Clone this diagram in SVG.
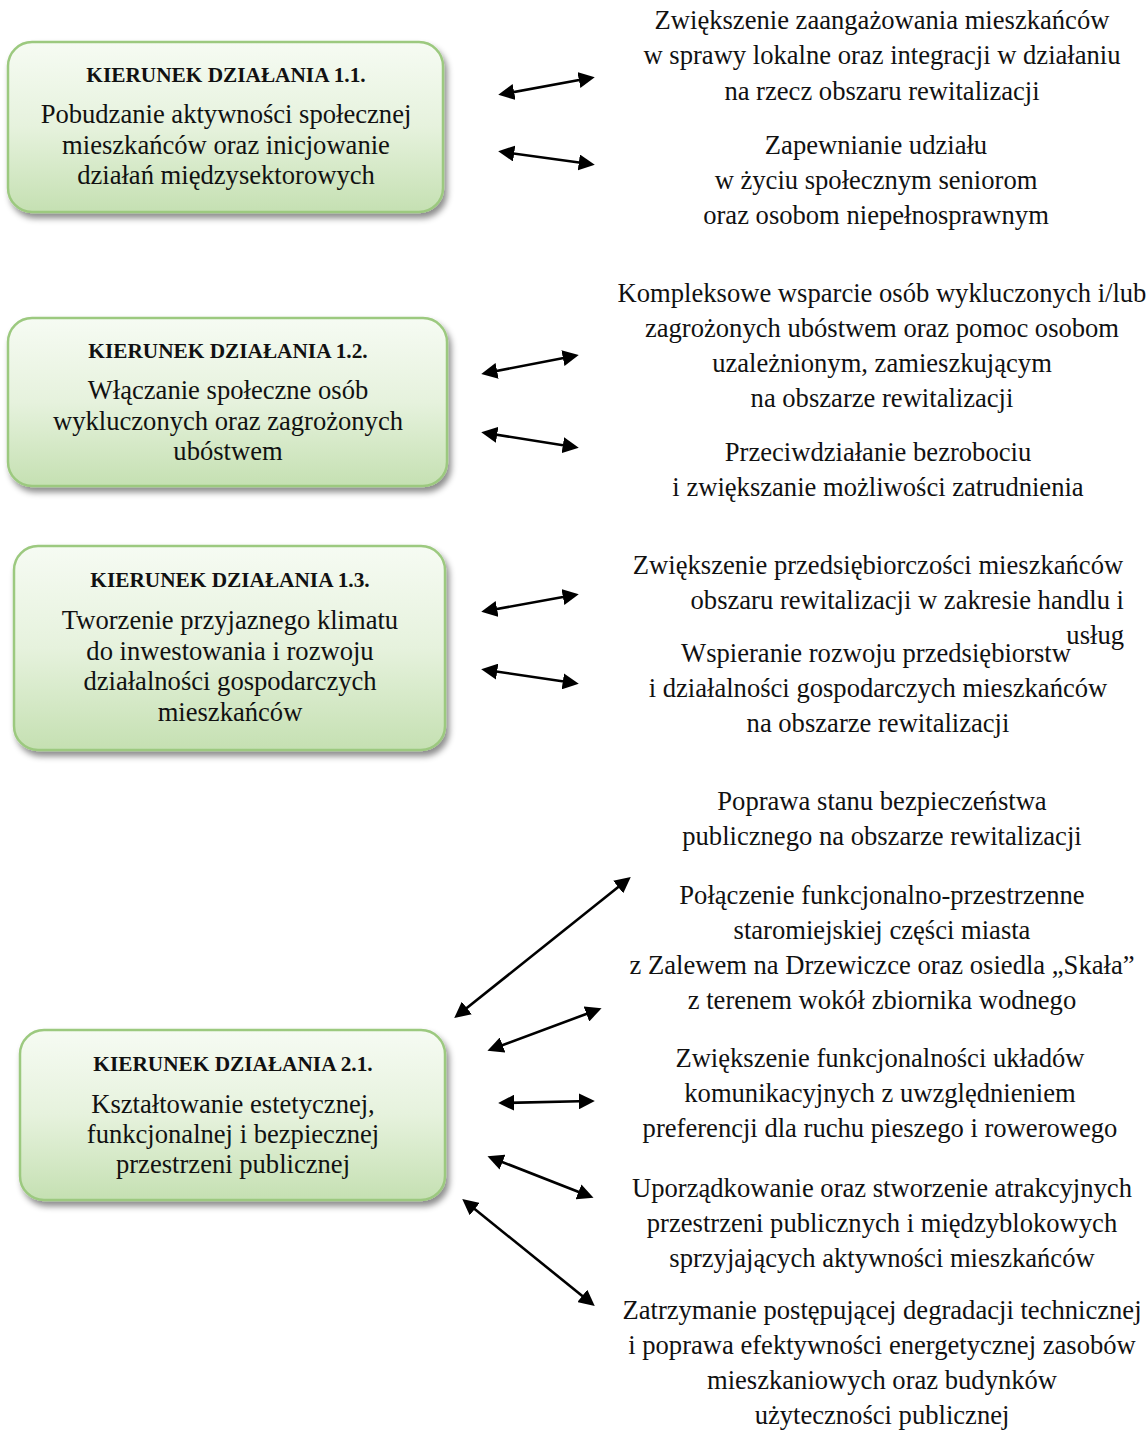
<svg xmlns="http://www.w3.org/2000/svg" width="1148" height="1430" viewBox="0 0 1148 1430">
<style>
.box{fill:url(#g);stroke:#9cc97f;stroke-width:2.5}
.t{font-family:"Liberation Serif",serif;font-size:26.6px;fill:#111;text-anchor:middle}
.h{font-family:"Liberation Serif",serif;font-size:21.3px;font-weight:bold;fill:#111;text-anchor:middle}
.c line{stroke:#000;stroke-width:2.6;marker-start:url(#a);marker-end:url(#a)}
</style>
<defs>
<linearGradient id="g" x1="0" y1="0" x2="0" y2="1">
<stop offset="0" stop-color="#f6fbf3"/>
<stop offset="0.5" stop-color="#e6f2dd"/>
<stop offset="1" stop-color="#c5e0b2"/>
</linearGradient>
<filter id="sh" x="-10%" y="-10%" width="120%" height="130%">
<feDropShadow dx="3" dy="5" stdDeviation="3" flood-color="#000" flood-opacity="0.45"/>
</filter>
<marker id="a" viewBox="0 0 10 10" refX="7" refY="5" markerWidth="6.2" markerHeight="6.2" orient="auto-start-reverse" markerUnits="strokeWidth">
<path d="M0,0 L10,5 L0,10 z" fill="#000"/>
</marker>
</defs>
<rect width="1148" height="1430" fill="#fff"/>
<g id="node-1-1">
<rect class="box" x="8" y="42" width="435" height="170" rx="24" filter="url(#sh)"/>
<text class="h" x="226" y="82">KIERUNEK DZIAŁANIA 1.1.</text>
<text class="t" x="226" y="123">Pobudzanie aktywności społecznej</text>
<text class="t" x="226" y="154">mieszkańców oraz inicjowanie</text>
<text class="t" x="226" y="184">działań międzysektorowych</text>
</g>
<g id="node-1-2">
<rect class="box" x="8" y="318" width="439" height="168" rx="24" filter="url(#sh)"/>
<text class="h" x="228" y="358">KIERUNEK DZIAŁANIA 1.2.</text>
<text class="t" x="228" y="399">Włączanie społeczne osób</text>
<text class="t" x="228" y="430">wykluczonych oraz zagrożonych</text>
<text class="t" x="228" y="460">ubóstwem</text>
</g>
<g id="node-1-3">
<rect class="box" x="14" y="546" width="431" height="204" rx="24" filter="url(#sh)"/>
<text class="h" x="230" y="587">KIERUNEK DZIAŁANIA 1.3.</text>
<text class="t" x="230" y="629">Tworzenie przyjaznego klimatu</text>
<text class="t" x="230" y="660">do inwestowania i rozwoju</text>
<text class="t" x="230" y="690">działalności gospodarczych</text>
<text class="t" x="230" y="721">mieszkańców</text>
</g>
<g id="node-2-1">
<rect class="box" x="20" y="1030" width="425" height="170" rx="24" filter="url(#sh)"/>
<text class="h" x="233" y="1071">KIERUNEK DZIAŁANIA 2.1.</text>
<text class="t" x="233" y="1113">Kształtowanie estetycznej,</text>
<text class="t" x="233" y="1143">funkcjonalnej i bezpiecznej</text>
<text class="t" x="233" y="1173">przestrzeni publicznej</text>
</g>
<g id="goal-1">
<text class="t" x="882" y="29">Zwiększenie zaangażowania mieszkańców</text>
<text class="t" x="882" y="64">w sprawy lokalne oraz integracji w działaniu</text>
<text class="t" x="882" y="100">na rzecz obszaru rewitalizacji</text>
</g>
<g id="goal-2">
<text class="t" x="876" y="154">Zapewnianie udziału</text>
<text class="t" x="876" y="189">w życiu społecznym seniorom</text>
<text class="t" x="876" y="224">oraz osobom niepełnosprawnym</text>
</g>
<g id="goal-3">
<text class="t" x="882" y="302">Kompleksowe wsparcie osób wykluczonych i/lub</text>
<text class="t" x="882" y="337">zagrożonych ubóstwem oraz pomoc osobom</text>
<text class="t" x="882" y="372">uzależnionym, zamieszkującym</text>
<text class="t" x="882" y="407">na obszarze rewitalizacji</text>
</g>
<g id="goal-4">
<text class="t" x="878" y="461">Przeciwdziałanie bezrobociu</text>
<text class="t" x="878" y="496">i zwiększanie możliwości zatrudnienia</text>
</g>
<g id="goal-5">
<text class="t" x="878" y="574">Zwiększenie przedsiębiorczości mieszkańców</text>
<text class="t" x="1124" y="609" style="text-anchor:end">obszaru rewitalizacji w zakresie handlu i</text>
<text class="t" x="1124" y="644" style="text-anchor:end">usług</text>
</g>
<g id="goal-6">
<text class="t" x="876" y="662">Wspieranie rozwoju przedsiębiorstw</text>
<text class="t" x="878" y="697">i działalności gospodarczych mieszkańców</text>
<text class="t" x="878" y="732">na obszarze rewitalizacji</text>
</g>
<g id="goal-7">
<text class="t" x="882" y="810">Poprawa stanu bezpieczeństwa</text>
<text class="t" x="882" y="845">publicznego na obszarze rewitalizacji</text>
</g>
<g id="goal-8">
<text class="t" x="882" y="904">Połączenie funkcjonalno-przestrzenne</text>
<text class="t" x="882" y="939">staromiejskiej części miasta</text>
<text class="t" x="882" y="974">z Zalewem na Drzewiczce oraz osiedla „Skała”</text>
<text class="t" x="882" y="1009">z terenem wokół zbiornika wodnego</text>
</g>
<g id="goal-9">
<text class="t" x="880" y="1067">Zwiększenie funkcjonalności układów</text>
<text class="t" x="880" y="1102">komunikacyjnych z uwzględnieniem</text>
<text class="t" x="880" y="1137">preferencji dla ruchu pieszego i rowerowego</text>
</g>
<g id="goal-10">
<text class="t" x="882" y="1197">Uporządkowanie oraz stworzenie atrakcyjnych</text>
<text class="t" x="882" y="1232">przestrzeni publicznych i międzyblokowych</text>
<text class="t" x="882" y="1267">sprzyjających aktywności mieszkańców</text>
</g>
<g id="goal-11">
<text class="t" x="882" y="1319">Zatrzymanie postępującej degradacji technicznej</text>
<text class="t" x="882" y="1354">i poprawa efektywności energetycznej zasobów</text>
<text class="t" x="882" y="1389">mieszkaniowych oraz budynków</text>
<text class="t" x="882" y="1424">użyteczności publicznej</text>
</g>
<g id="connectors" class="c">
<line x1="503" y1="94" x2="590" y2="78"/>
<line x1="503" y1="152" x2="590" y2="164"/>
<line x1="486" y1="373" x2="574" y2="356"/>
<line x1="486" y1="433" x2="574" y2="447"/>
<line x1="486" y1="611" x2="574" y2="595"/>
<line x1="486" y1="670" x2="574" y2="683"/>
<line x1="458" y1="1015" x2="627" y2="880"/>
<line x1="492" y1="1049" x2="597" y2="1010"/>
<line x1="503" y1="1103" x2="590" y2="1101"/>
<line x1="492" y1="1158" x2="589" y2="1196"/>
<line x1="466" y1="1202" x2="591" y2="1303"/>
</g>
</svg>
